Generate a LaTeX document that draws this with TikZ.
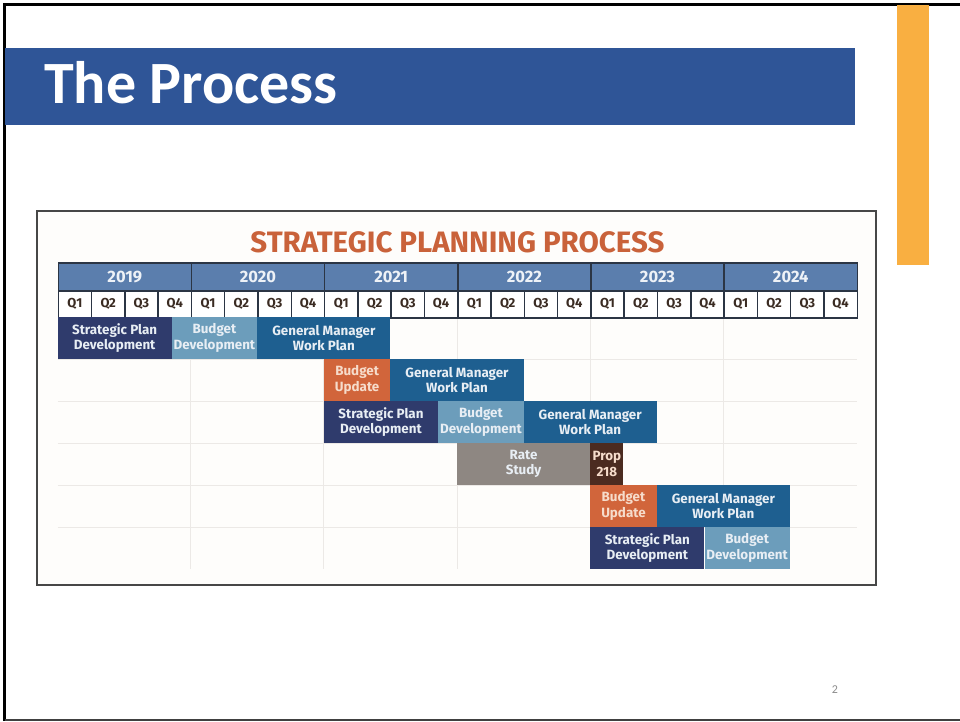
\documentclass[tikz,border=0pt]{standalone}
\usepackage{fontspec}
\setmainfont{Fira Sans}
\newfontfamily\slidefont{Carlito}

\definecolor{slideblue}{HTML}{2F5597}
\definecolor{accent}{HTML}{F9AF41}
\definecolor{chartbg}{HTML}{FEFDFB}
\definecolor{framegray}{HTML}{474747}
\definecolor{titleorange}{HTML}{C9623A}
\definecolor{yearfill}{HTML}{5B7EAD}
\definecolor{hdrline}{HTML}{2B3544}
\definecolor{yeartext}{HTML}{EEF2F7}
\definecolor{qtext}{HTML}{3A2B22}
\definecolor{gridgray}{HTML}{ECE9E6}
\definecolor{spdcol}{HTML}{2F3B6C}
\definecolor{bdcol}{HTML}{6C9DBB}
\definecolor{gmcol}{HTML}{1E5F90}
\definecolor{bucol}{HTML}{D1653B}
\definecolor{ratecol}{HTML}{8E8782}
\definecolor{propcol}{HTML}{4B2B20}
\definecolor{bartext}{HTML}{E8EEF4}
\definecolor{warmtext}{HTML}{F6DCCB}
\definecolor{pagegray}{HTML}{8B8B8B}

\begin{document}
\begin{tikzpicture}[x=1pt,y=-1pt,
  yearcell/.style={anchor=north west, draw=hdrline, line width=1.5pt, fill=yearfill,
    minimum width=133.17pt, minimum height=28pt, inner sep=0pt, text=yeartext,
    font=\fontsize{16.5}{18}\selectfont\bfseries},
  qcell/.style={anchor=north west, draw=hdrline, line width=1.5pt, fill=white,
    minimum width=33.29pt, minimum height=27pt, inner sep=0pt, text=qtext,
    font=\fontsize{13}{15}\selectfont\bfseries},
  bar/.style={anchor=north west, inner sep=0pt, outer sep=0pt, minimum height=42pt,
    align=center, text=bartext, font=\fontsize{13.4}{15.5}\selectfont\bfseries},
  spd/.style={bar, fill=spdcol, minimum width=114.3pt},
  bd/.style={bar, fill=bdcol, minimum width=85.2pt},
  gm/.style={bar, fill=gmcol, minimum width=133.17pt},
  bu/.style={bar, fill=bucol, text=warmtext, minimum width=66.58pt},
  gridline/.style={draw=gridgray, line width=1pt}]
\useasboundingbox (0,0) rectangle (960,721);

% slide frame
\draw[line width=3pt, black] (4.5,721) -- (4.5,4.5) -- (960,4.5);
\draw[line width=1.5pt, black!75] (4.5,720.2) -- (960,720.2);

% title band and accent strip
\fill[slideblue] (5,48) rectangle (855,125);
\node[anchor=base west, inner sep=0pt, text=white,
  font=\slidefont\fontsize{60}{61}\selectfont\bfseries] (slidetitle) at (44,103) {The Process};
\fill[accent] (897,5) rectangle (929,265);

% chart panel
\draw[draw=framegray, line width=2pt, fill=chartbg] (37,211) rectangle (876,585);
\node[anchor=base, inner sep=0pt, text=titleorange,
  font=\fontsize{29.5}{31}\selectfont\bfseries] (charttitle) at (457.5,252.5) {STRATEGIC PLANNING PROCESS};

% background grid
\foreach \gy in {359,401,443,485,527} {
  \draw[gridline] (57.5,\gy) -- (856.5,\gy);
}
\foreach \gx in {190.67,323.83,457,590.17,723.33} {
  \draw[gridline] (\gx,317) -- (\gx,569);
}

% year and quarter header
\foreach \yr [count=\i from 0] in {2019,2020,2021,2022,2023,2024} {
  \node[yearcell] (yr\yr) at ({57.5+133.1667*\i},262) {\yr};
  \foreach \k in {1,2,3,4} {
    \node[qcell] (q\yr-\k) at ({57.5+133.1667*\i+33.2917*(\k-1)},290) {Q\k};
  }
}

% row 1
\node[spd] (spdA) at (57.5,317) {Strategic Plan\\Development};
\node[bd, minimum width=85.75pt] (bdA) at (171.5,317) {Budget\\Development};
\node[gm] (gmA) at (257.25,317) {General Manager\\Work Plan};
% row 2
\node[bu] (buB) at (323.83,359) {Budget\\Update};
\node[gm] (gmB) at (390.42,359) {General Manager\\Work Plan};
% row 3
\node[spd] (spdC) at (323.83,401) {Strategic Plan\\Development};
\node[bd] (bdC) at (438.3,401) {Budget\\Development};
\node[gm] (gmC) at (523.58,401) {General Manager\\Work Plan};
% row 4
\node[bar, fill=ratecol, minimum width=133.17pt] (rate) at (457,443) {Rate\\Study};
\node[bar, fill=propcol, text=warmtext, minimum width=33.29pt] (prop) at (590.17,443) {Prop\\218};
% row 5
\node[bu] (buE) at (590.17,485) {Budget\\Update};
\node[gm] (gmE) at (656.75,485) {General Manager\\Work Plan};
% row 6
\node[spd] (spdF) at (590.17,527) {Strategic Plan\\Development};
\node[bd] (bdF) at (704.5,527) {Budget\\Development};

% page number
\node[text=pagegray, font=\slidefont\fontsize{12}{14}\selectfont] (pageno) at (835,690) {2};
\end{tikzpicture}
\end{document}
